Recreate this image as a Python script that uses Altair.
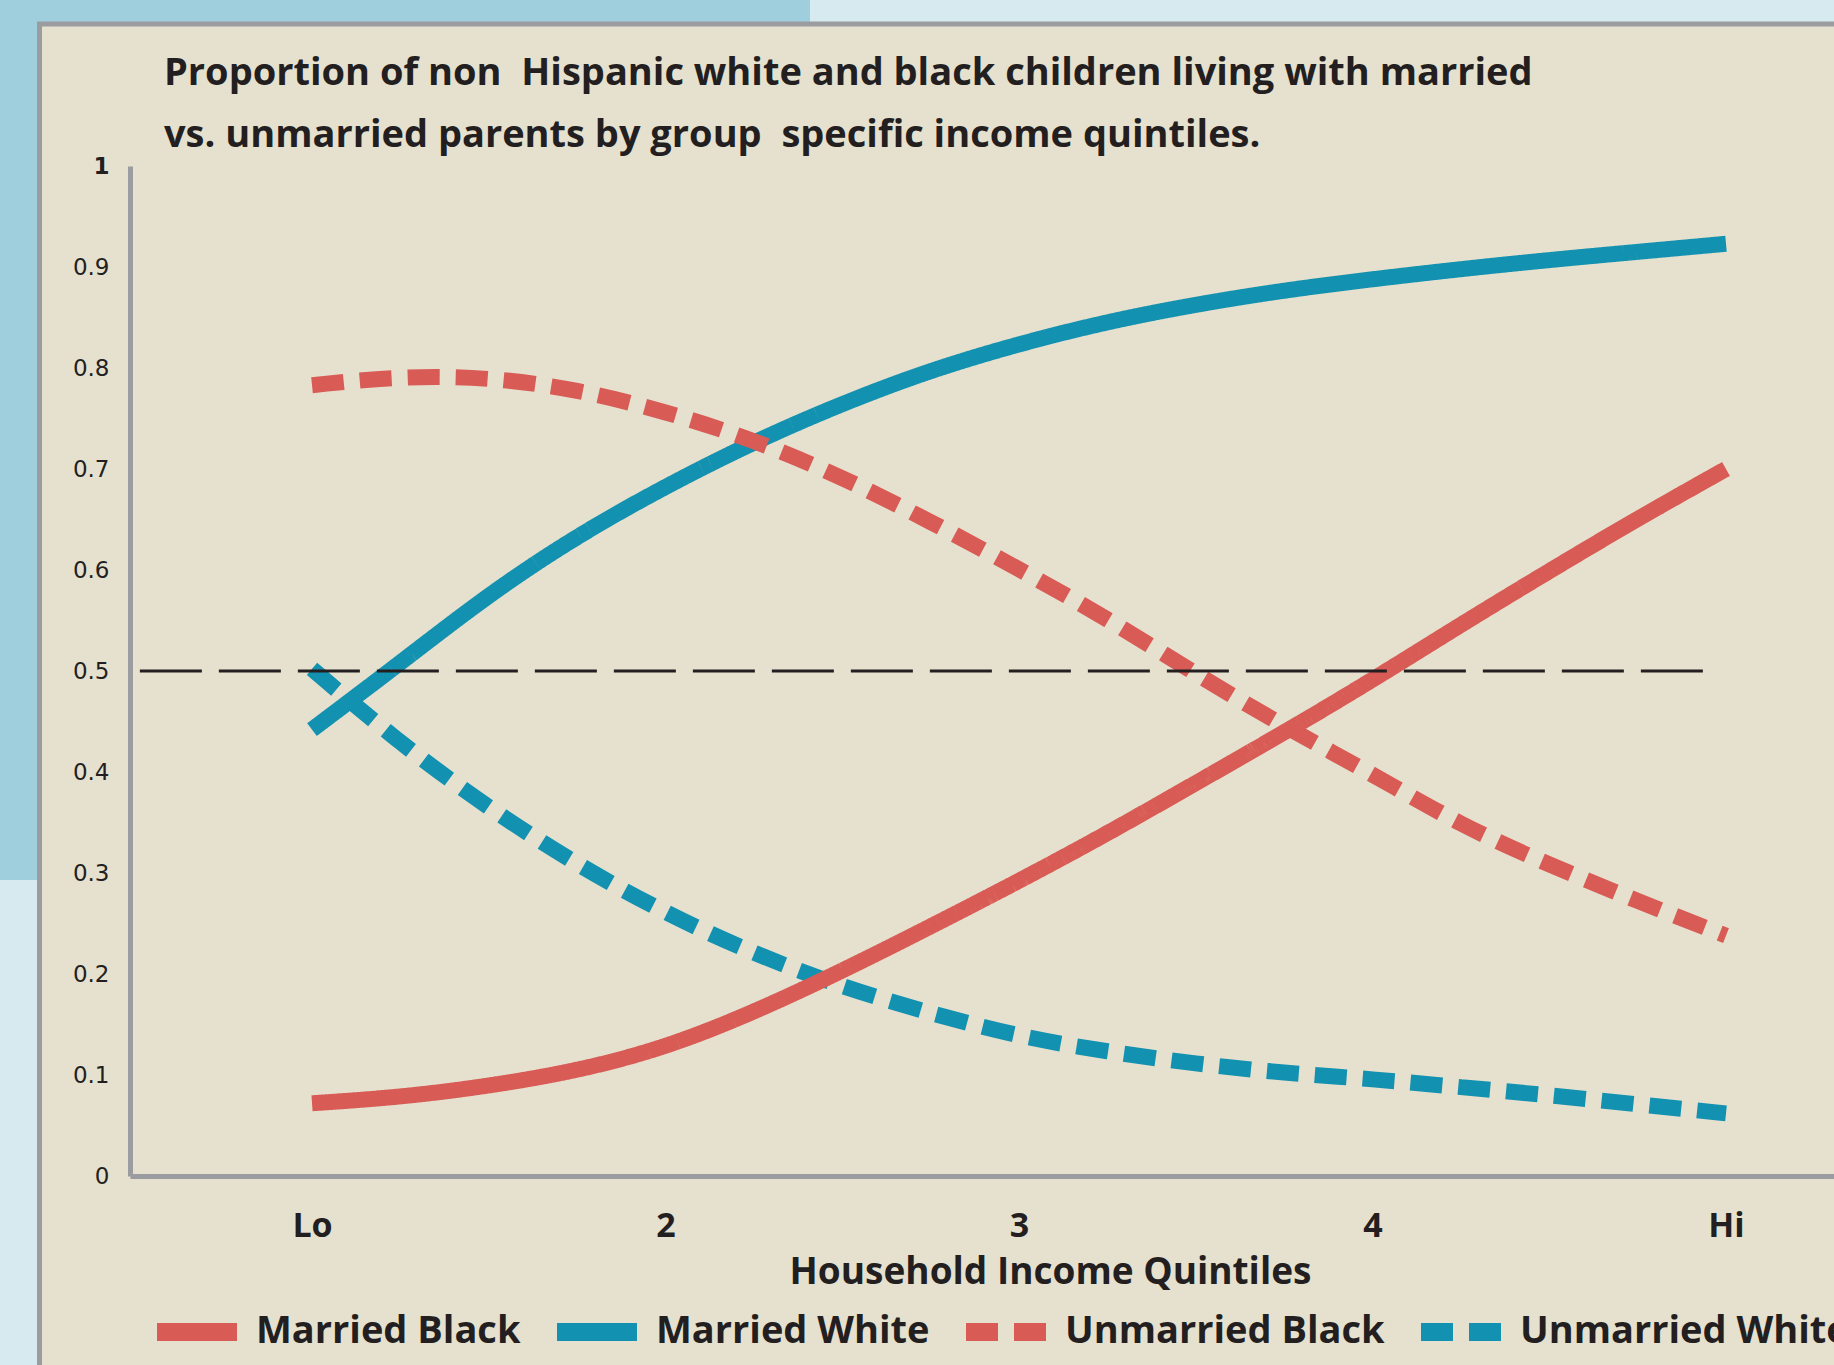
import altair as alt
import pandas as pd

# ---------------- data ----------------
quintile_pos = [1.0, 1.25, 1.5, 1.75, 2.0, 2.25, 2.5, 2.75, 3.0,
                3.25, 3.5, 3.75, 4.0, 4.25, 4.5, 4.75, 5.0]
married_black = [0.072, 0.078, 0.089, 0.104, 0.127, 0.162, 0.203, 0.247, 0.292,
                 0.339, 0.389, 0.439, 0.491, 0.546, 0.599, 0.651, 0.700]
married_white = [0.442, 0.508, 0.576, 0.634, 0.683, 0.727, 0.765, 0.798, 0.824,
                 0.846, 0.863, 0.877, 0.888, 0.898, 0.907, 0.915, 0.923]
unmarried_black = [0.783, 0.792, 0.791, 0.779, 0.757, 0.729, 0.692, 0.648, 0.601,
                   0.552, 0.497, 0.445, 0.398, 0.347, 0.308, 0.272, 0.238]
unmarried_white = [0.502, 0.428, 0.364, 0.308, 0.260, 0.220, 0.187, 0.161, 0.138,
                   0.123, 0.111, 0.102, 0.096, 0.088, 0.080, 0.071, 0.062]

series_names = ["Married Black", "Married White", "Unmarried Black", "Unmarried White"]
draw_order = ["Married White", "Unmarried White", "Unmarried Black", "Married Black"]

x_tick_values = [1, 2, 3, 4, 5]
x_tick_labels = ["Lo", "2", "3", "4", "Hi"]
y_tick_values = [0, 0.1, 0.2, 0.3, 0.4, 0.5, 0.6, 0.7, 0.8, 0.9, 1]

ref_value = [0.5]
ref_x_start = [0.513]
ref_x_end = [4.94]

title_lines = ["Proportion of non\u00a0 Hispanic white and black children living with married",
               "vs. unmarried parents by group\u00a0 specific income quintiles."]
x_title = "Household Income Quintiles"

# ---------------- styles ----------------
BEIGE = "#e6e1cf"
BLUE_BG = "#9fcfdc"
LIGHT_BG = "#d6eaef"
GREY = "#9b9ca0"
RED = "#d95b55"
BLUE = "#1391b0"
TEXT = "#231f20"

X_DOMAIN = [0.4851, 5.3055]

series_values = {
    "Married Black": married_black,
    "Married White": married_white,
    "Unmarried Black": unmarried_black,
    "Unmarried White": unmarried_white,
}
rows = []
for name in draw_order:
    for q, v in zip(quintile_pos, series_values[name]):
        rows.append({"quintile": q, "proportion": v, "series": name})
df = pd.DataFrame(rows)

ref_df = pd.DataFrame({"x": ref_x_start, "x2": ref_x_end, "y": ref_value})

label_expr = ""
for v, lab in zip(x_tick_values, x_tick_labels):
    label_expr += f"datum.value == {v} ? '{lab}' : "
label_expr += "''"

one = alt.Data(values=[{"k": 1}])

# decorative slide background
decor_blue = alt.Chart(one).mark_rect(color=BLUE_BG).encode(
    x=alt.value(-130), x2=alt.value(680), y=alt.value(-166), y2=alt.value(714)
)
panel = alt.Chart(one).mark_rect(fill=BEIGE, stroke=GREY, strokeWidth=5).encode(
    x=alt.value(-90.5), x2=alt.value(1800), y=alt.value(-142), y2=alt.value(1300)
)

legend_def = alt.Legend(
    title=None,
    orient="none",
    legendX=18,
    legendY=1117,
    direction="horizontal",
    symbolType="stroke",
    symbolSize=6400,
    symbolStrokeWidth=18,
    labelFont="Open Sans",
    labelFontSize=38,
    labelFontWeight="bold",
    labelColor=TEXT,
    labelOffset=10,
    columnPadding=0,
    labelLimit=800,
    zindex=1,
)

lines = alt.Chart(df).mark_line(strokeWidth=16, interpolate="basis").encode(
    x=alt.X(
        "quintile:Q",
        scale=alt.Scale(domain=X_DOMAIN, nice=False, zero=False),
        axis=alt.Axis(
            values=x_tick_values,
            labelExpr=label_expr,
            labelFont="Open Sans",
            labelFontSize=34,
            labelFontWeight="bold",
            labelColor=TEXT,
            labelPadding=33,
            labelFlush=False,
            labelOverlap=False,
            ticks=False,
            grid=False,
            domainColor=GREY,
            domainWidth=5,
            title=x_title,
            titleFont="Open Sans",
            titleFontSize=37,
            titleFontWeight="bold",
            titleColor=TEXT,
            titleX=920,
            titleY=107,
            titleAlign="center",
            titleBaseline="alphabetic",
            zindex=1,
        ),
    ),
    y=alt.Y(
        "proportion:Q",
        scale=alt.Scale(domain=[0, 1], nice=False),
        axis=alt.Axis(
            values=y_tick_values,
            format=".1~f",
            labelFont="DejaVu Sans",
            labelFontSize=23,
            labelColor=TEXT,
            labelPadding=21,
            labelFontWeight={"condition": {"test": "datum.value == 1", "value": "bold"}, "value": "normal"},
            ticks=False,
            grid=False,
            domainColor=GREY,
            domainWidth=5,
            title=None,
            zindex=1,
        ),
    ),
    color=alt.Color(
        "series:N",
        scale=alt.Scale(domain=series_names, range=[RED, BLUE, RED, BLUE]),
        legend=legend_def,
    ),
    strokeDash=alt.StrokeDash(
        "series:N",
        scale=alt.Scale(domain=series_names, range=[[1, 0], [1, 0], [32, 16], [32, 16]]),
        legend=legend_def,
    ),
)

rule = alt.Chart(ref_df).mark_rule(color=TEXT, strokeWidth=3, strokeDash=[62, 17]).encode(
    x=alt.X("x:Q", scale=alt.Scale(domain=X_DOMAIN, nice=False, zero=False)),
    x2="x2:Q",
    y=alt.Y("y:Q", scale=alt.Scale(domain=[0, 1], nice=False)),
)

chart = alt.layer(decor_blue, panel, lines, rule).properties(
    width=1704,
    height=1010,
    padding={"left": 130, "top": 166, "right": 0, "bottom": 189},
    autosize=alt.AutoSizeParams(type="none"),
    background=LIGHT_BG,
    title=alt.TitleParams(
        text=title_lines,
        anchor="start",
        frame="group",
        baseline="top",
        font="Open Sans",
        fontSize=38,
        fontWeight="bold",
        color=TEXT,
        lineHeight=62,
        dx=34,
        offset=-155,
        zindex=1,
    ),
).configure_view(strokeWidth=0)

chart.save("out.html", embed_options={"renderer": "svg", "actions": False})
